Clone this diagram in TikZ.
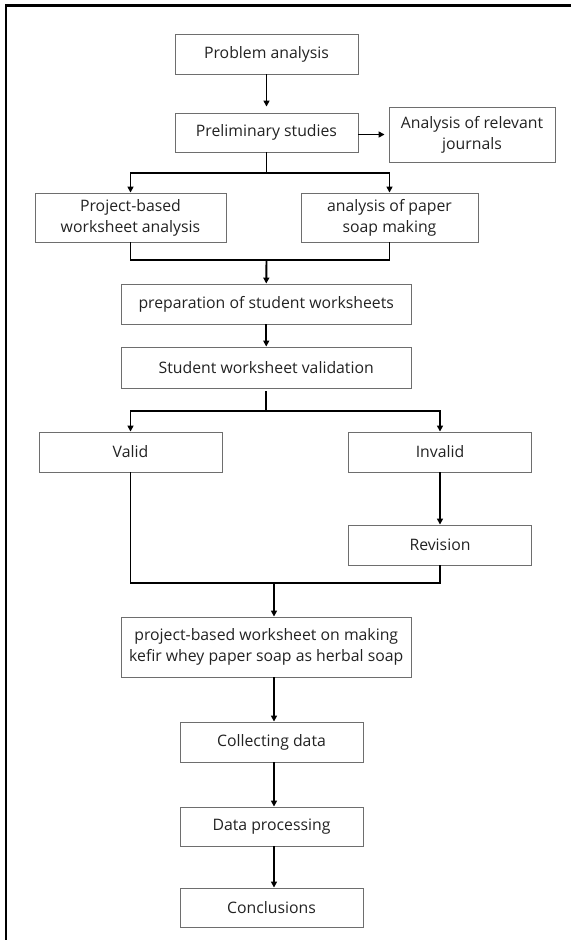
\documentclass[tikz,border=0pt]{standalone}
\usepackage{fontspec}
\setmainfont{Open Sans}
\usetikzlibrary{arrows.meta}
\definecolor{boxgray}{HTML}{6E6E6E}
\definecolor{txt}{HTML}{222222}
\begin{document}
\begin{tikzpicture}[x=1pt,y=-1pt,
  box/.style={draw=boxgray,line width=0.9pt,rectangle,inner sep=0pt,align=center,
    text=txt,font=\fontsize{15.8}{20.8}\selectfont},
  conn/.style={line width=1.9pt,black},
  arr/.style={conn,-{Triangle[length=6pt,width=6pt]}}]
\useasboundingbox (0,0) rectangle (571,940);
\draw[line width=2.6pt,black] (6,940) -- (6,5.5) -- (571,5.5);
\node[box,minimum width=183pt,minimum height=40pt] (pa) at (266.5,54) {Problem analysis};
\node[box,minimum width=183pt,minimum height=39pt] (ps) at (266.5,132.5) {Preliminary studies};
\node[box,minimum width=166pt,minimum height=55pt] (jr) at (472,134.5) {Analysis of relevant\\journals};
\node[box,minimum width=191pt,minimum height=49pt] (pbw) at (130.5,217.5) {Project-based\\worksheet analysis};
\node[box,minimum width=177pt,minimum height=49pt] (aps) at (389.5,217.5) {analysis of paper\\soap making};
\node[box,minimum width=290pt,minimum height=40pt] (prep) at (266.25,304) {preparation of student worksheets};
\node[box,minimum width=290pt,minimum height=41pt] (val) at (266.25,367.5) {Student worksheet validation};
\node[box,minimum width=183pt,minimum height=40pt] (valid) at (130.5,452) {Valid};
\node[box,minimum width=183pt,minimum height=40pt] (inv) at (440,452) {Invalid};
\node[box,minimum width=183pt,minimum height=40pt] (rev) at (440,545) {Revision};
\node[box,minimum width=290pt,minimum height=60pt] (pbk) at (266.25,647) {project-based worksheet on making\\kefir whey paper soap as herbal soap};
\node[box,minimum width=183pt,minimum height=40pt] (cd) at (271.5,742) {Collecting data};
\node[box,minimum width=183pt,minimum height=39pt] (dp) at (271.5,826.5) {Data processing};
\node[box,minimum width=183pt,minimum height=39pt] (cn) at (271.5,907.5) {Conclusions};
\coordinate (s1) at (266.5,173);
\coordinate (m1) at (266.5,260);
\coordinate (s2) at (266.25,411);
\coordinate (m2) at (274,583);
% connectors
\draw[arr,shorten >=6pt] (pa.south) -- (ps.north);
\draw[arr,shorten >=4pt] (ps.east |- jr.west) -- (jr.west);
\draw[conn] (ps.south) -- (s1);
\draw[arr] (s1) -| (pbw.north);
\draw[arr] (s1) -| (aps.north);
\draw[conn] (pbw.south) |- (m1);
\draw[conn] (aps.south) |- (m1);
\draw[arr] (m1) -- (prep.north);
\draw[arr] (prep.south) -- (val.north);
\draw[conn,shorten <=3pt] (val.south) -- (s2);
\draw[arr] (s2) -| (valid.north);
\draw[arr] (s2) -| (inv.north);
\draw[arr] (inv.south) -- (rev.north);
\draw[conn] (valid.south) |- (m2);
\draw[conn] (rev.south) |- (m2);
\draw[arr] (m2) -- (m2 |- pbk.north);
\draw[arr] (pbk.south -| m2) -- (cd.north -| m2);
\draw[arr] (cd.south -| m2) -- (dp.north -| m2);
\draw[arr] (dp.south -| m2) -- (cn.north -| m2);
\end{tikzpicture}
\end{document}
